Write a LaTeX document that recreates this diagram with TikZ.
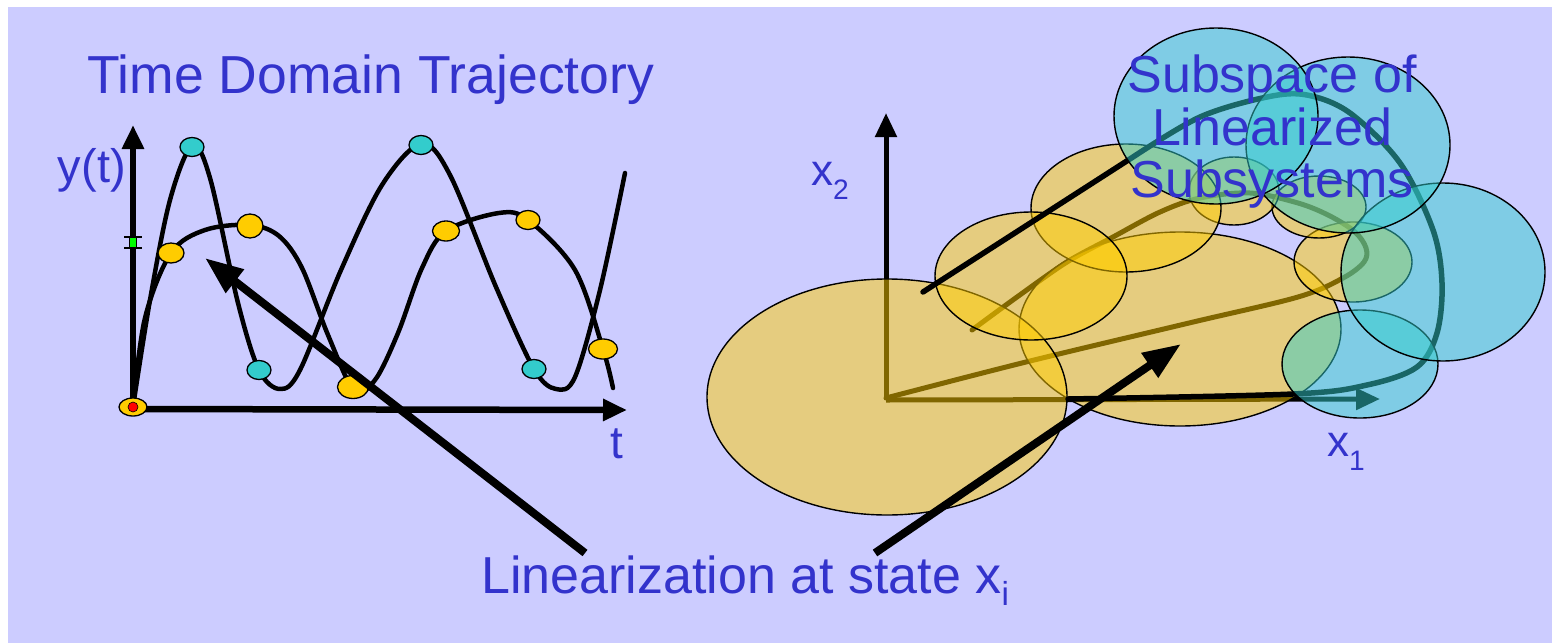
\documentclass[tikz,border=0pt]{standalone}
\usepackage{fontspec}
\setmainfont{Liberation Sans}
\usetikzlibrary{arrows.meta,shapes.geometric}
\definecolor{bgc}{HTML}{CCCCFF}
\definecolor{txtc}{HTML}{3333CC}
\definecolor{goldc}{HTML}{FFCC00}
\definecolor{cync}{HTML}{33CCCC}
\newcommand\subtx[2]{\raisebox{#1}{\scalebox{0.64}{#2}}}
\begin{document}
\begin{tikzpicture}[x=1pt,y=-1pt,
  lbl/.style={text=txtc, inner sep=0pt, anchor=base west},
  bigtxt/.style={lbl, font=\fontsize{52}{52}\selectfont},
  axtxt/.style={lbl, font=\fontsize{44}{44}\selectfont},
  axisL/.style={line width=6.5pt, -{Triangle[length=24pt,width=21pt]}},
  axisR/.style={line width=5pt, -{Triangle[length=24pt,width=21pt]}},
  ptr/.style={line width=8pt, -{Triangle[length=38pt,width=28pt]}},
  traj/.style={line width=4.5pt, line cap=round, line join=round},
  ydot/.style={draw=black, line width=1.3pt, fill=goldc, ellipse, inner sep=0pt},
  cdot/.style={draw=black, line width=1.3pt, fill=cync, ellipse, inner sep=0pt},
  yell/.style={draw=black, line width=1.4pt, fill=goldc, fill opacity=0.5},
  cell/.style={draw=black, line width=1.4pt, fill=cync, fill opacity=0.5}]
\useasboundingbox (0,0) rectangle (1552,643);
\fill[bgc] (8,7) rectangle (1552,643);

% ---------------- left panel ----------------
\node[lbl, font=\fontsize{53.5}{53.5}\selectfont] (title) at (87,93) {Time Domain Trajectory};
\coordinate (o1) at (133,409);
\coordinate (ytip) at (133,125);
\coordinate (ttip) at (627,410);
\draw[axisL] (o1) -- (ytip);
\draw[axisL] (o1) -- (ttip);
\node[lbl, font=\fontsize{47}{47}\selectfont, anchor=base east] (ylab) at (126,182) {y(t)};
\node[lbl, font=\fontsize{46}{46}\selectfont] (tlab) at (610,458) {t};

% green marker on y axis
\draw[line width=1.3pt] (124,237) -- (142,237) (124,248) -- (142,248);
\node[draw=black, line width=0.6pt, fill=green, minimum width=7pt, minimum height=10pt, inner sep=0pt] (gm) at (133,242.5) {};

% fast trajectory
\draw[traj] plot[smooth, tension=0.55] coordinates {(133,407) (150,300) (170,200) (192,146) (210,178) (238,303) (259,370) (280,389) (300,370) (341,270) (382,185) (421,144) (450,175) (496,287) (534,369) (556,389) (575,377) (600,290) (625,173)};
% slow trajectory
\draw[traj] plot[smooth, tension=0.55] coordinates {(133,407) (145,318) (171,253) (205,230) (250,225) (279,236) (302,268) (328,335) (354,390) (375,380) (398,333) (422,268) (446,231) (499,213) (528,220) (575,270) (603,349) (613,388)};

\node[ydot, minimum width=28pt, minimum height=18pt] (d0) at (133,407) {};
\fill[red, draw=black, line width=0.6pt] (133,407) circle[radius=5pt];
\node[cdot, minimum width=24pt, minimum height=19pt] (c1) at (192,147) {};
\node[cdot, minimum width=24pt, minimum height=19pt] (c2) at (259,370) {};
\node[cdot, minimum width=24pt, minimum height=19pt] (c3) at (421,145) {};
\node[cdot, minimum width=24pt, minimum height=19pt] (c4) at (534,369) {};
\node[ydot, minimum width=26pt, minimum height=20pt] (y1) at (171,253) {};
\node[ydot, minimum width=26pt, minimum height=24pt] (y2) at (250,226) {};
\node[ydot, minimum width=31pt, minimum height=23pt] (y3) at (353,387) {};
\node[ydot, minimum width=27pt, minimum height=20pt] (y4) at (446,231) {};
\node[ydot, minimum width=24pt, minimum height=19pt] (y5) at (528,220) {};
\node[ydot, minimum width=29pt, minimum height=20pt] (y6) at (603,349) {};

% ---------------- right panel ----------------
% inner trajectory (under ellipses)
\draw[traj, line width=5pt] plot[smooth, tension=0.55] coordinates {(886,398) (1026,362) (1189,323) (1298,297) (1343,278) (1364,262) (1366,248) (1355,232) (1330,216) (1298,203) (1250,193) (1200,198) (1160,212) (1113,237) (1067,262) (1017,297) (972,330)};
\coordinate (o2) at (886,400);
\coordinate (x2tip) at (886,113);
\coordinate (x1tip) at (1380,399);
\draw[axisR] (o2) -- (x2tip);
\draw[axisR] (o2) -- (x1tip);

% yellow (gold) subsystem ellipses
\draw[yell] (1180,329) ellipse[x radius=161pt, y radius=97pt];
\draw[yell] (1353,262) ellipse[x radius=59pt, y radius=40pt];
\draw[yell] (1319,207) ellipse[x radius=47pt, y radius=31pt];
\draw[yell] (1234,191) ellipse[x radius=45pt, y radius=34pt];
\draw[yell] (1126,208) ellipse[x radius=95pt, y radius=64pt];
\draw[yell] (887,397) ellipse[x radius=180pt, y radius=118pt];
\draw[yell] (1031,276) ellipse[x radius=96pt, y radius=64pt];

% outer trajectory
\draw[traj, line width=5.5pt] plot[smooth, tension=0.55] coordinates {(1068,399) (1293,394) (1367,385) (1417,367) (1437,333) (1442,283) (1433,230) (1400,163) (1350,113) (1307,95) (1267,97) (1200,117) (1133,157)} -- (923,292);

% cyan subsystem ellipses
\draw[cell] (1360,364) ellipse[x radius=78pt, y radius=54pt];
\draw[cell] (1443,272) ellipse[x radius=102pt, y radius=89pt];
\draw[cell] (1348,145) ellipse[x radius=102pt, y radius=88pt];
\draw[cell] (1216,116) ellipse[x radius=102pt, y radius=88pt];

\node[axtxt] (x2lab) at (811,185) {x\subtx{-0.33em}{2}};
\node[axtxt] (x1lab) at (1327,456) {x\subtx{-0.33em}{1}};

\node[bigtxt, anchor=base] (s1) at (1272,92) {Subspace of};
\node[bigtxt, anchor=base] (s2) at (1272,145) {Linearized};
\node[bigtxt, anchor=base] (s3) at (1272,197) {Subsystems};

% ---------------- pointer arrows ----------------
\node[bigtxt] (lin) at (481,593) {Linearization at state x\subtx{-0.24em}{i}};
\coordinate (pa0) at (585,553);
\coordinate (pa1) at (205,258);
\coordinate (pb0) at (875,553);
\coordinate (pb1) at (1181,344);
\draw[ptr] (pa0) -- (pa1);
\draw[ptr] (pb0) -- (pb1);
\end{tikzpicture}
\end{document}
